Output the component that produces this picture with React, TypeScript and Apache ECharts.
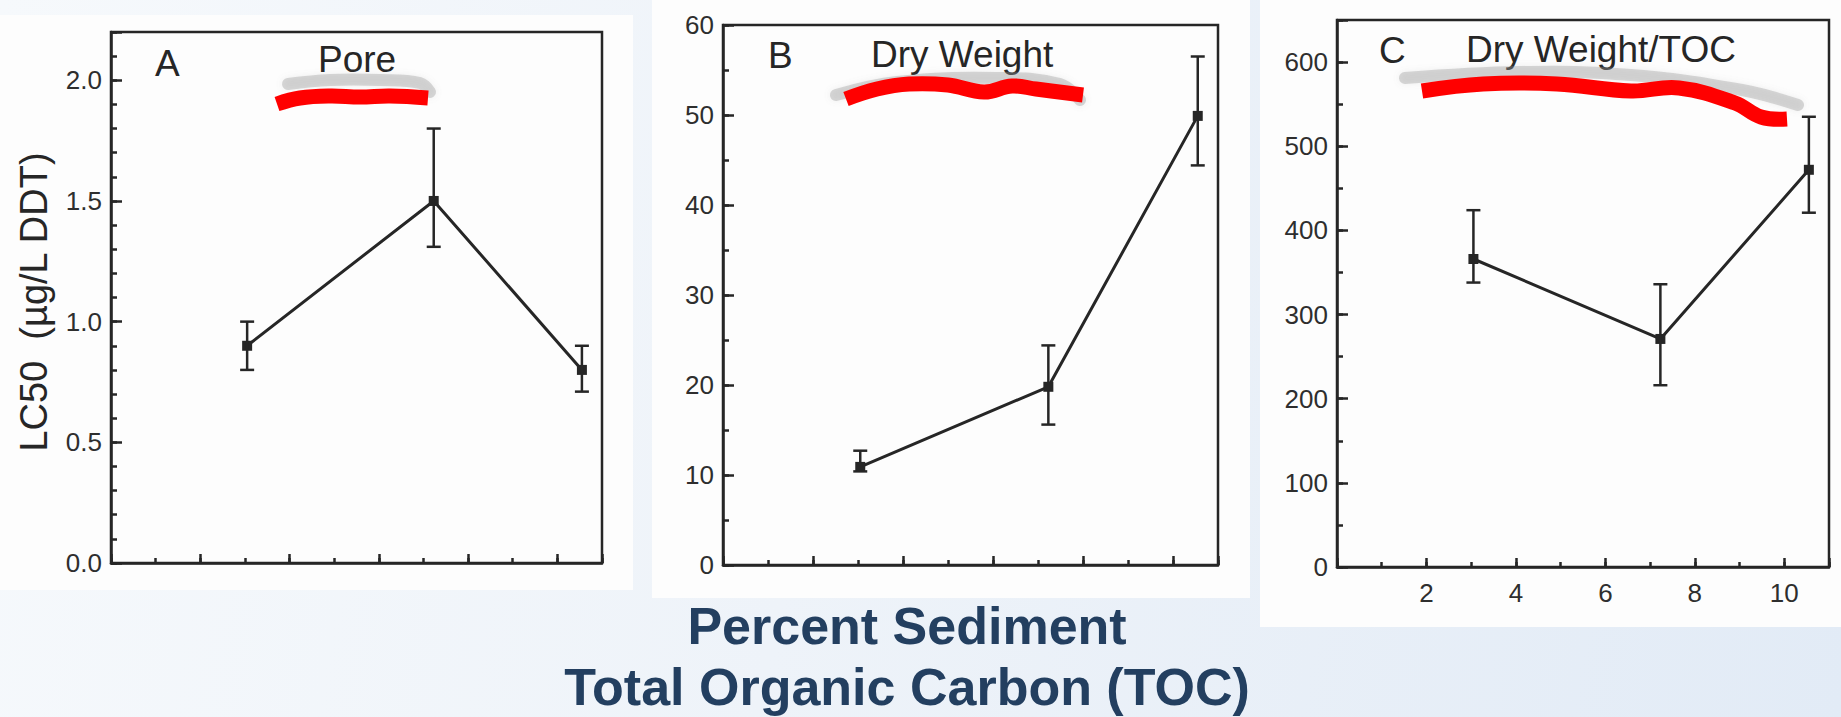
import React, { useEffect, useRef } from "react";
import * as echarts from "echarts";

// Percent sediment TOC (x) shared by the three panels
const tocPercent = [3.05, 7.23, 10.55];

// Panel A: Pore water LC50 (µg/L DDT)
const poreLC50 = [0.9, 1.5, 0.8];
const poreUpper = [1.0, 1.8, 0.9];
const poreLower = [0.8, 1.31, 0.71];

// Panel B: Dry weight
const dryLC50 = [10.9, 19.8, 49.9];
const dryUpper = [12.7, 24.4, 56.5];
const dryLower = [10.4, 15.6, 44.4];

// Panel C: Dry weight / TOC
const tocLC50 = [366, 271, 472];
const tocUpper = [424, 336, 535];
const tocLower = [338, 216, 421];

// Tick labels
const xTickLabels = ["2", "4", "6", "8", "10"];
const poreTickLabels = ["0.0", "0.5", "1.0", "1.5", "2.0"];
const dryTickLabels = ["0", "10", "20", "30", "40", "50", "60"];
const tocTickLabels = ["0", "100", "200", "300", "400", "500", "600"];

const panelLetters = ["A", "B", "C"];
const panelTitles = ["Pore", "Dry Weight", "Dry Weight/TOC"];
const yAxisTitle = "LC50  (\u00b5g/L DDT)";
const bottomTitle = ["Percent Sediment", "Total Organic Carbon (TOC)"];

const INK = "#262626";
const FONT = "'Liberation Sans', Arial, Helvetica, sans-serif";

const panels = [
  {
    grid: { left: 111, top: 32, width: 491, height: 531 },
    yMax: 2.2, yMajor: 0.5, yMinor: 0.1, decimals: 1, yLabels: poreTickLabels,
    mean: poreLC50, upper: poreUpper, lower: poreLower, showX: false,
    letterPos: [155, 63], titlePos: [318, 59],
  },
  {
    grid: { left: 723, top: 25, width: 495, height: 540 },
    yMax: 60, yMajor: 10, yMinor: 5, decimals: 0, yLabels: dryTickLabels,
    mean: dryLC50, upper: dryUpper, lower: dryLower, showX: false,
    letterPos: [768, 55], titlePos: [871, 54],
  },
  {
    grid: { left: 1337, top: 20, width: 492, height: 547 },
    yMax: 650, yMajor: 100, yMinor: 50, decimals: 0, yLabels: tocTickLabels,
    mean: tocLC50, upper: tocUpper, lower: tocLower, showX: true,
    letterPos: [1379, 50], titlePos: [1466, 49],
  },
];

const papers = [
  { x: 0, y: 15, width: 633, height: 575 },
  { x: 652, y: 0, width: 598, height: 598 },
  { x: 1260, y: 0, width: 581, height: 627 },
];

const graySmudges = [
  [[288, 84], [330, 80], [380, 80], [420, 83], [430, 92]],
  [[836, 95], [897, 82], [996, 78], [1060, 84], [1080, 100]],
  [[1405, 78], [1520, 72], [1631, 75], [1742, 90], [1798, 105]],
];

const redStrokes = [
  [[277, 104], [300, 98], [330, 96], [360, 97], [390, 96], [428, 98]],
  [[846, 99], [877, 89], [909, 84], [948, 85], [984, 92], [1012, 86], [1036, 89], [1083, 95]],
  [[1422, 91], [1483, 84], [1557, 84], [1631, 91], [1679, 88], [1735, 103], [1761, 117], [1787, 119]],
];

function buildOption() {
  const grid: any[] = [];
  const xAxis: any[] = [];
  const yAxis: any[] = [];
  const series: any[] = [];
  const graphic: any[] = [];

  papers.forEach((p) => {
    graphic.push({ type: "rect", z: -10, shape: p, style: { fill: "#fdfdfd" } });
  });

  panels.forEach((p, i) => {
    grid.push({
      ...p.grid,
      show: true,
      borderColor: INK,
      borderWidth: 2.5,
      backgroundColor: "transparent",
    });
    // major x axis
    xAxis.push({
      type: "value", gridIndex: i, min: 0, max: 11, interval: 2, position: "bottom",
      axisLine: { show: true, onZero: false, lineStyle: { color: INK, width: 2.5 } },
      axisTick: { show: true, inside: true, length: 9, lineStyle: { color: INK, width: 2.5 } },
      splitLine: { show: false },
      axisLabel: {
        show: p.showX, margin: 13, fontSize: 26, color: "#2e2e2e", fontFamily: FONT,
        formatter: (v: number) => (xTickLabels.includes(String(v)) ? String(v) : ""),
      },
    });
    // minor x axis
    xAxis.push({
      type: "value", gridIndex: i, min: 0, max: 11, interval: 1, position: "bottom",
      axisLine: { show: false, onZero: false },
      axisTick: { show: true, inside: true, length: 5, lineStyle: { color: INK, width: 2.5 } },
      splitLine: { show: false },
      axisLabel: { show: false },
    });
    // major y axis
    yAxis.push({
      type: "value", gridIndex: i, min: 0, max: p.yMax, interval: p.yMajor, position: "left",
      axisLine: { show: true, onZero: false, lineStyle: { color: INK, width: 2.5 } },
      axisTick: { show: true, inside: true, length: 11, lineStyle: { color: INK, width: 2.5 } },
      splitLine: { show: false },
      axisLabel: {
        show: true, margin: 9, fontSize: 26, color: "#2e2e2e", fontFamily: FONT,
        formatter: (v: number) => {
          const s = v.toFixed(p.decimals);
          return p.yLabels.includes(s) ? s : "";
        },
      },
    });
    // minor y axis
    yAxis.push({
      type: "value", gridIndex: i, min: 0, max: p.yMax, interval: p.yMinor, position: "left",
      axisLine: { show: false, onZero: false },
      axisTick: { show: true, inside: true, length: 6, lineStyle: { color: INK, width: 2.5 } },
      splitLine: { show: false },
      axisLabel: { show: false },
    });

    series.push({
      type: "line",
      xAxisIndex: 2 * i,
      yAxisIndex: 2 * i,
      data: tocPercent.map((x, k) => [x, p.mean[k]]),
      symbol: "rect",
      symbolSize: 10,
      itemStyle: { color: INK },
      lineStyle: { color: INK, width: 3 },
      z: 3,
    });
    series.push({
      type: "custom",
      xAxisIndex: 2 * i,
      yAxisIndex: 2 * i,
      data: tocPercent.map((x, k) => [x, p.lower[k], p.upper[k]]),
      encode: { x: 0, y: [1, 2] },
      z: 4,
      renderItem: (params: any, api: any) => {
        const x = api.value(0);
        const lo = api.coord([x, api.value(1)]);
        const hi = api.coord([x, api.value(2)]);
        const hw = 7;
        const style = { stroke: INK, lineWidth: 2.5 };
        return {
          type: "group",
          children: [
            { type: "line", shape: { x1: lo[0], y1: lo[1], x2: hi[0], y2: hi[1] }, style },
            { type: "line", shape: { x1: lo[0] - hw, y1: lo[1], x2: lo[0] + hw, y2: lo[1] }, style },
            { type: "line", shape: { x1: hi[0] - hw, y1: hi[1], x2: hi[0] + hw, y2: hi[1] }, style },
          ],
        };
      },
    });

    graphic.push({
      type: "text", x: p.letterPos[0], y: p.letterPos[1], z: 5,
      style: { text: panelLetters[i], font: `37px ${FONT}`, fill: INK, align: "left", verticalAlign: "middle" },
    });
    graphic.push({
      type: "text", x: p.titlePos[0], y: p.titlePos[1], z: 5,
      style: { text: panelTitles[i], font: `37px ${FONT}`, fill: INK, align: "left", verticalAlign: "middle" },
    });
  });

  graySmudges.forEach((pts) => {
    graphic.push({
      type: "polyline", z: 6,
      shape: { points: pts, smooth: 0.4 },
      style: {
        stroke: "rgba(150,150,150,0.35)", lineWidth: 12, fill: "none", lineCap: "round",
        shadowBlur: 6, shadowColor: "rgba(140,140,140,0.4)",
      },
    });
  });
  redStrokes.forEach((pts) => {
    graphic.push({
      type: "polyline", z: 7,
      shape: { points: pts, smooth: 0.4 },
      style: { stroke: "#ff0000", lineWidth: 15, fill: "none", lineCap: "butt" },
    });
  });

  graphic.push({
    type: "text", x: 34, y: 302, rotation: Math.PI / 2, z: 5,
    style: { text: yAxisTitle, font: `38px ${FONT}`, fill: INK, align: "center", verticalAlign: "middle" },
  });

  graphic.push({
    type: "text", x: 907, y: 626, z: 5,
    style: { text: bottomTitle[0], font: `bold 52px ${FONT}`, fill: "#233f60", align: "center", verticalAlign: "middle" },
  });
  graphic.push({
    type: "text", x: 907, y: 687, z: 5,
    style: { text: bottomTitle[1], font: `bold 52px ${FONT}`, fill: "#233f60", align: "center", verticalAlign: "middle" },
  });

  return {
    animation: false,
    backgroundColor: "transparent",
    grid,
    xAxis,
    yAxis,
    series,
    graphic,
  };
}

export default function App() {
  const ref = useRef<HTMLDivElement>(null);
  useEffect(() => {
    if (!ref.current) return;
    const chart = echarts.init(ref.current, undefined, { renderer: "svg" });
    chart.setOption(buildOption() as any);
    return () => chart.dispose();
  }, []);
  return (
    <div
      ref={ref}
      style={{
        position: "fixed",
        left: 0,
        top: 0,
        width: 1841,
        height: 717,
        background: "linear-gradient(100deg, #f6f9fc 0%, #eef3f9 45%, #e2ebf6 100%)",
      }}
    />
  );
}
